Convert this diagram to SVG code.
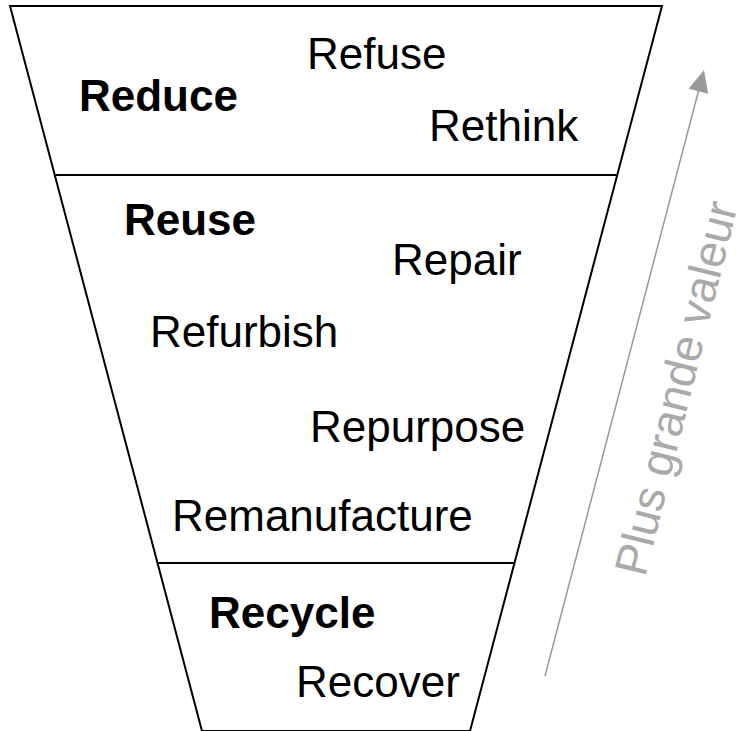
<svg xmlns="http://www.w3.org/2000/svg" width="749" height="731" viewBox="0 0 749 731">
<style>
.t{font-family:"Liberation Sans",Arial,sans-serif;font-size:44px;fill:#000}
.b{font-weight:bold}
.edge{fill:none;stroke:#000;stroke-width:2}
.arr{stroke:#999;stroke-width:1.5;fill:none}
.v{font-family:"Liberation Sans",Arial,sans-serif;font-size:46px;fill:#aaa}
</style>
<rect width="749" height="731" fill="#fff"/>
<g id="funnel">
<polygon class="edge" points="10,6 662,6 470,731 202,731"/>
<line class="edge" x1="54.8" y1="175" x2="617.2" y2="175"/>
<line class="edge" x1="157.7" y1="563" x2="514.3" y2="563"/>
</g>
<g id="reduce">
<text class="t b" x="79" y="111">Reduce</text>
<text class="t" x="307" y="69">Refuse</text>
<text class="t" x="429" y="141">Rethink</text>
</g>
<g id="reuse">
<text class="t b" x="124" y="235">Reuse</text>
<text class="t" x="392" y="275">Repair</text>
<text class="t" x="150" y="347">Refurbish</text>
<text class="t" x="310" y="442">Repurpose</text>
<text class="t" x="172" y="531">Remanufacture</text>
</g>
<g id="recycle">
<text class="t b" x="209" y="628">Recycle</text>
<text class="t" x="296" y="697">Recover</text>
</g>
<g id="connectors">
<line class="arr" x1="545" y1="676" x2="698.4" y2="91.3"/>
<polygon points="704,70 688.7,88.8 708.1,93.8" fill="#999"/>
</g>
<g id="value-label">
<text class="v" transform="translate(645,578) rotate(-76)">Plus grande valeur</text>
</g>
</svg>
